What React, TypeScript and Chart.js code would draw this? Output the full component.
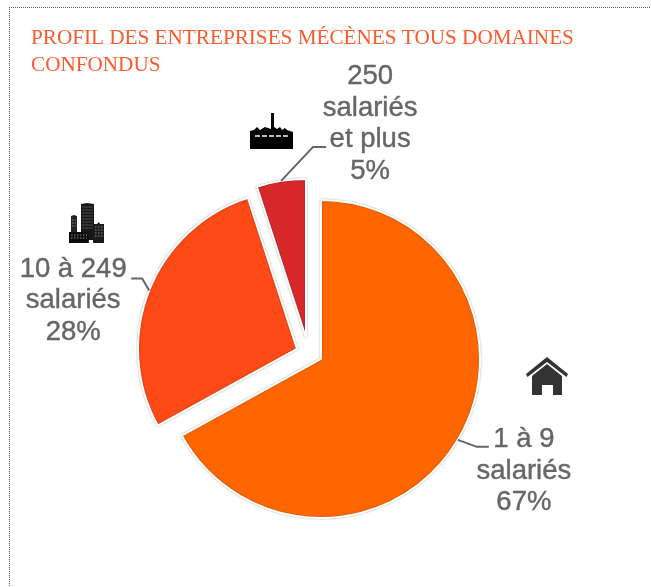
import React, { useEffect, useRef } from "react";
import { Chart, registerables } from "chart.js";

Chart.register(...registerables);

const titleLines = ["PROFIL DES ENTREPRISES MÉCÈNES TOUS DOMAINES", "CONFONDUS"];
const categories = [["1 à 9", "salariés"], ["10 à 249", "salariés"], ["250", "salariés", "et plus"]];
const shares = [67, 28, 5];
const sliceColors = ["#ff6600", "#fd4a17", "#d7282b"];

// translation of each exploded slice away from the pie centre
const sliceShift = [[0, 0], [-24, -10], [-15, -21]];
// leader elbow and end, and label text centre, relative to the slice edge anchor
const leaders = [
  { elbow: [19, 7], end: [31, 7], text: [66, 0] },
  { elbow: [-7, -12], end: [-18, -12], text: [-76, -21] },
  { elbow: [32, -34], end: [45, -34], text: [89, -104] },
];

const explodePlugin = {
  id: "explode",
  afterDatasetsUpdate(chart: any) {
    chart.getDatasetMeta(0).data.forEach((arc: any, i: number) => {
      arc.x += sliceShift[i][0];
      arc.y += sliceShift[i][1];
    });
  },
  beforeDatasetDraw(chart: any) {
    const c = chart.ctx;
    c.save();
    c.shadowColor = "rgba(0,0,0,0.3)";
    c.shadowBlur = 2;
  },
  afterDatasetDraw(chart: any) {
    chart.ctx.restore();
  },
};

const labelPlugin = {
  id: "sliceLabels",
  afterDatasetsDraw(chart: any) {
    const c = chart.ctx;
    chart.getDatasetMeta(0).data.forEach((arc: any, i: number) => {
      const mid = (arc.startAngle + arc.endAngle) / 2;
      const ax = arc.x + Math.cos(mid) * arc.outerRadius;
      const ay = arc.y + Math.sin(mid) * arc.outerRadius;
      const l = leaders[i];
      c.save();
      c.strokeStyle = "#666666";
      c.lineWidth = 2;
      c.lineJoin = "round";
      c.beginPath();
      c.moveTo(ax, ay);
      c.lineTo(ax + l.elbow[0], ay + l.elbow[1]);
      c.lineTo(ax + l.end[0], ay + l.end[1]);
      c.stroke();
      c.fillStyle = "#666666";
      c.strokeStyle = "#666666";
      c.lineWidth = 0.4;
      c.font = "27.5px 'Liberation Sans'";
      c.textAlign = "center";
      c.textBaseline = "middle";
      const lines = [...categories[i], `${shares[i]}%`];
      const lineHeight = 31.5;
      lines.forEach((t, k) => {
        c.fillText(t, ax + l.text[0], ay + l.text[1] + k * lineHeight);
        c.strokeText(t, ax + l.text[0], ay + l.text[1] + k * lineHeight);
      });
      c.restore();
    });
  },
};

function Factory() {
  return (
    <svg style={{ position: "absolute", left: 249, top: 112 }} width={45} height={37} viewBox="0 0 45 37">
      <path d="M22 1h3v14l3 2 3-2 2 3 3-2 2 2 6 2v17H1V19l4-1 3-3 3 3 5-3 6 2z" fill="#000" />
      <path d="M6 23h5v2H6zM13 23h5v2h-5zM20 23h5v2h-5zM27 23h5v2h-5zM34 23h5v2h-5z" fill="#bbb" />
    </svg>
  );
}

function Buildings() {
  return (
    <svg style={{ position: "absolute", left: 68, top: 202 }} width={37} height={41} viewBox="0 0 37 41">
      <path d="M13 2l6-1 7 1v36H13z" fill="#161616" />
      <path d="M3 14l3-1 3 1v17H3z" fill="#222" />
      <path d="M25 22h4l2-2 1 2h4v19H25z" fill="#1a1a1a" />
      <path d="M1 30h19l1 11H1z" fill="#0c0c0c" />
      <path d="M14 5h11M14 8h11M14 11h11M14 14h11M14 17h11M14 20h11M14 23h11M14 26h11" stroke="#666" strokeWidth={0.7} />
      <path d="M3 33h16M3 36h16M27 25h8M27 28h8M27 31h8M27 34h8M4 18h4M4 21h4M4 24h4" stroke="#999" strokeWidth={0.9} strokeDasharray="1.5 1.5" />
    </svg>
  );
}

function House() {
  return (
    <svg style={{ position: "absolute", left: 525, top: 356 }} width={44} height={41} viewBox="0 0 44 41">
      <path d="M1 18L22 1l21 17-1.5 3L22 6 2.5 21z" fill="#333" />
      <path d="M7 20L22 8l15 12v19H28V29h-11v10H7z" fill="#333" />
    </svg>
  );
}

export default function App() {
  const ref = useRef<HTMLCanvasElement>(null);
  useEffect(() => {
    const chart = new Chart(ref.current!, {
      type: "pie",
      data: {
        labels: categories.map((c) => c.join(" ")),
        datasets: [
          {
            data: shares,
            backgroundColor: sliceColors,
            borderColor: "#ffffff",
            borderWidth: 2,
          },
        ],
      },
      options: {
        animation: false,
        responsive: false,
        radius: 159,
        layout: { padding: { left: 31, right: 40, top: 25, bottom: 0 } },
        plugins: {
          legend: { display: false },
          tooltip: { enabled: false },
          title: {
            display: true,
            text: titleLines,
            align: "start",
            color: "#fb5a2c",
            font: { family: "'Liberation Serif'", size: 21.2, weight: "normal", lineHeight: 1.27 },
            padding: { top: 0, bottom: 52 },
          },
        },
      } as any,
      plugins: [explodePlugin, labelPlugin],
    });
    return () => chart.destroy();
  }, []);
  return (
    <div style={{ position: "absolute", left: 0, top: 0, width: 651, height: 587, overflow: "hidden", background: "#fff" }}>
      <div style={{ position: "absolute", left: 9, top: 7, width: 700, height: 700, borderTop: "1px dotted #555", borderLeft: "1px dotted #555" }} />
      <canvas ref={ref} width={651} height={587} style={{ position: "absolute", left: 0, top: 0 }} />
      <Factory />
      <Buildings />
      <House />
    </div>
  );
}
